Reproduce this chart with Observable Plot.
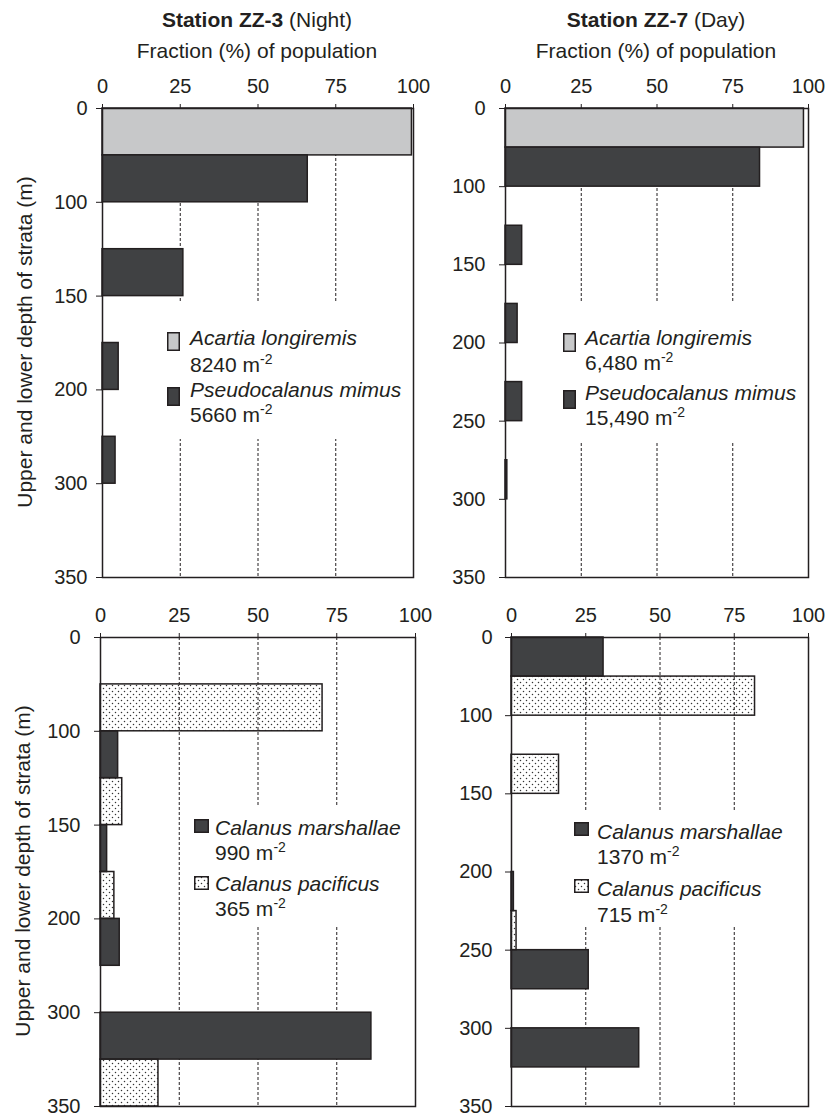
<!DOCTYPE html>
<html>
<head>
<meta charset="utf-8">
<script src="https://cdn.jsdelivr.net/npm/d3@7"></script>
<script src="https://cdn.jsdelivr.net/npm/@observablehq/plot@0.6"></script>
<style>
  body { margin: 0; background: #fff; }
  #wrap { position: relative; width: 826px; height: 1118px; font-family: Arial, "Liberation Sans", Helvetica, sans-serif; color: #231f20; overflow: hidden; }
  .abs { position: absolute; white-space: nowrap; line-height: 21px; font-size: 21px; }
  .ctr { transform: translateX(-50%); }
  .box { position: absolute; background: #fff; }
  .sup { font-size: 14px; position: relative; top: -8px; }
  .ylab { position: absolute; font-size: 21px; line-height: 21px; white-space: nowrap; transform: translate(-50%, -50%) rotate(-90deg); }
  svg.sw { position: absolute; overflow: visible; }
</style>
</head>
<body>
<div id="wrap"></div>
<script>
// ---------- data ----------
const pctTicks = [0, 25, 50, 75, 100];
const depthZZ3 = [0, 100, 150, 200, 300, 350];
const depthZZ7 = [0, 100, 150, 200, 250, 300, 350];

// Top row (% of population per stratum); first series = upper half of stratum, second = lower half
const acartiaZZ3 = [99.5, 0, 0, 0, 0];
const pseudoZZ3 = [66, 26, 5.2, 4.2, 0];
const acartiaZZ7 = [98.5, 0, 0, 0, 0, 0];
const pseudoZZ7 = [84, 5.5, 4, 5.5, 0.6, 0];

// Bottom row
const marshallaeZZ3 = [0, 5.6, 2.1, 6.1, 86];
const pacificusZZ3 = [70.5, 6.9, 4.4, 0, 18.4];
const marshallaeZZ7 = [31, 0, 0, 0.8, 26, 43];
const pacificusZZ7 = [82, 16, 0, 1.7, 0, 0];

const stationTitles = [["Station ZZ-3", "(Night)"], ["Station ZZ-7", "(Day)"]];
const xTitle = "Fraction (%) of population";
const yTitle = "Upper and lower depth of strata (m)";
const legendTL = [["Acartia longiremis", "8240"], ["Pseudocalanus mimus", "5660"]];
const legendTR = [["Acartia longiremis", "6,480"], ["Pseudocalanus mimus", "15,490"]];
const legendBL = [["Calanus marshallae", "990"], ["Calanus pacificus", "365"]];
const legendBR = [["Calanus marshallae", "1370"], ["Calanus pacificus", "715"]];

// ---------- styles ----------
const INK = "#231f20";
const DARK = "#404143";
const GRAY = "#c7c8c9";
const wrap = document.getElementById("wrap");

function addPattern(svgSel, id) {
  let defs = svgSel.select("defs");
  if (defs.empty()) defs = svgSel.insert("defs", ":first-child");
  const p = defs.append("pattern").attr("id", id).attr("patternUnits", "userSpaceOnUse")
    .attr("width", 6).attr("height", 6);
  p.append("circle").attr("cx", 1.5).attr("cy", 1.5).attr("r", 0.75).attr("fill", "#333");
  p.append("circle").attr("cx", 4.5).attr("cy", 4.5).attr("r", 0.75).attr("fill", "#333");
}

function panel(cfg) {
  const N = cfg.depth.length - 1;
  const mL = 100, mT = 40, mR = 10, mB = 10;
  const upper = cfg.upper.map((v, i) => ({v, y1: 2 * i, y2: 2 * i + 1})).filter(d => d.v > 0);
  const lower = cfg.lower.map((v, i) => ({v, y1: 2 * i + 1, y2: 2 * i + 2})).filter(d => d.v > 0);
  const svg = Plot.plot({
    width: (cfg.R - cfg.L) + mL + mR,
    height: (cfg.B - cfg.T) + mT + mB,
    marginLeft: mL, marginRight: mR, marginTop: mT, marginBottom: mB,
    style: {background: "none", overflow: "visible", fontSize: "20px", fontFamily: 'Arial, "Liberation Sans", sans-serif', color: INK},
    x: {domain: [0, 100], axis: "top", ticks: pctTicks, tickSize: 5, tickPadding: 11, label: null},
    y: {domain: [0, 2 * N], reverse: true, ticks: d3.range(0, 2 * N + 1, 2),
        tickFormat: d => cfg.depth[d / 2], tickSize: 6, tickPadding: cfg.tickPad, label: null},
    marks: [
      Plot.ruleX([25, 50, 75], {stroke: INK, strokeWidth: 1, strokeDasharray: "3,2"}),
      Plot.rect(upper, {x1: d => 0, x2: "v", y1: "y1", y2: "y2", fill: cfg.upperFill, stroke: INK, strokeWidth: 1.5}),
      Plot.rect(lower, {x1: d => 0, x2: "v", y1: "y1", y2: "y2", fill: cfg.lowerFill, stroke: INK, strokeWidth: 1.5}),
      Plot.frame({stroke: INK, strokeWidth: 1.5})
    ]
  });
  if (cfg.patternId) addPattern(d3.select(svg), cfg.patternId);
  svg.style.position = "absolute";
  svg.style.left = (cfg.L - mL) + "px";
  svg.style.top = (cfg.T - mT) + "px";
  svg.style.maxWidth = "none";
  wrap.appendChild(svg);
}

function text(html, left, cy, extra) {
  const d = document.createElement("div");
  d.className = "abs" + (extra ? " " + extra : "");
  d.style.left = left + "px";
  d.style.top = (cy - 10.5) + "px";
  d.innerHTML = html;
  wrap.appendChild(d);
  return d;
}

function swatch(left, top, w, h, fill, pid) {
  const s = d3.select(wrap).append("svg").attr("class", "sw")
    .attr("width", w).attr("height", h)
    .style("left", left + "px").style("top", top + "px");
  if (pid) addPattern(s, pid);
  s.append("rect").attr("x", 0.75).attr("y", 0.75).attr("width", w - 1.5).attr("height", h - 1.5)
    .attr("fill", fill).attr("stroke", INK).attr("stroke-width", 1.5);
}

function legend(cfg) {
  const b = document.createElement("div");
  b.className = "box";
  Object.assign(b.style, {left: cfg.box[0] + "px", top: cfg.box[1] + "px", width: (cfg.box[2] - cfg.box[0]) + "px", height: (cfg.box[3] - cfg.box[1]) + "px"});
  wrap.appendChild(b);
  cfg.items.forEach((it, k) => {
    const m = cfg.markers[k];
    swatch(m[0], m[1], cfg.sw[0], cfg.sw[1], cfg.fills[k], cfg.pids[k]);
    text("<i>" + it[0] + "</i>", cfg.textX, cfg.lines[2 * k]);
    text(it[1] + " m<span class='sup'>-2</span>", cfg.textX, cfg.lines[2 * k + 1]);
  });
}

// ---------- panels ----------
panel({depth: depthZZ3, upper: acartiaZZ3, lower: pseudoZZ3, upperFill: GRAY, lowerFill: DARK,
       L: 102, R: 413, T: 108, B: 577, tickPad: 9});
panel({depth: depthZZ7, upper: acartiaZZ7, lower: pseudoZZ7, upperFill: GRAY, lowerFill: DARK,
       L: 505, R: 808, T: 108, B: 577, tickPad: 14});
panel({depth: depthZZ3, upper: marshallaeZZ3, lower: pacificusZZ3, upperFill: DARK, lowerFill: "url(#dotsBL)", patternId: "dotsBL",
       L: 100, R: 415, T: 637, B: 1106, tickPad: 14});
panel({depth: depthZZ7, upper: marshallaeZZ7, lower: pacificusZZ7, upperFill: DARK, lowerFill: "url(#dotsBR)", patternId: "dotsBR",
       L: 511, R: 808, T: 637, B: 1106, tickPad: 13});

// ---------- titles ----------
text("<b>" + stationTitles[0][0] + "</b> " + stationTitles[0][1], 257, 19, "ctr");
text(xTitle, 257, 50, "ctr");
text("<b>" + stationTitles[1][0] + "</b> " + stationTitles[1][1], 656, 19, "ctr");
text(xTitle, 656, 50, "ctr");

[[24, 342], [22, 871]].forEach(([x, y]) => {
  const d = document.createElement("div");
  d.className = "ylab";
  d.style.left = x + "px"; d.style.top = y + "px";
  d.textContent = yTitle;
  wrap.appendChild(d);
});

// ---------- legends ----------
legend({items: legendTL, box: [160, 302, 410, 439], markers: [[167, 332], [167, 387]], sw: [13, 19],
        fills: [GRAY, DARK], pids: [null, null], textX: 190, lines: [337, 364, 389, 414]});
legend({items: legendTR, box: [555, 302, 805, 442], markers: [[563, 333], [563, 390]], sw: [13, 19],
        fills: [GRAY, DARK], pids: [null, null], textX: 585, lines: [337, 362, 392, 417]});
legend({items: legendBL, box: [188, 806, 412, 926], markers: [[194, 819], [194, 876]], sw: [15, 14],
        fills: [DARK, "url(#swBL)"], pids: [null, "swBL"], textX: 215, lines: [827, 852, 883, 908]});
legend({items: legendBR, box: [568, 810, 805, 926], markers: [[574, 822], [574, 879]], sw: [15, 14],
        fills: [DARK, "url(#swBR)"], pids: [null, "swBR"], textX: 597, lines: [831, 856, 888, 914]});
</script>
</body>
</html>
